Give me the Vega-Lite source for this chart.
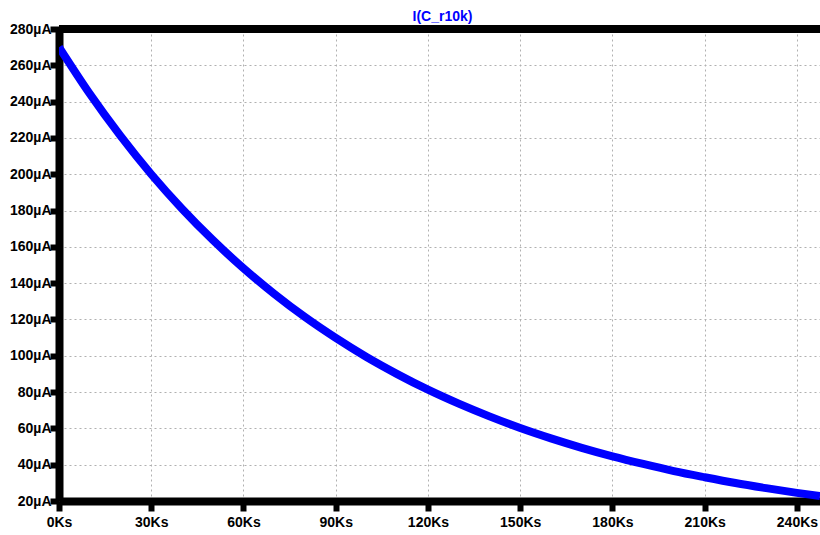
{
  "$schema": "https://vega.github.io/schema/vega-lite/v6.json",
  "width": 761,
  "height": 472,
  "autosize": {"type": "none"},
  "padding": {"left": 59, "top": 29, "right": 0, "bottom": 34},
  "background": "white",
  "title": {
    "text": "I(C_r10k)",
    "color": "#0000FF",
    "font": "Liberation Sans",
    "fontWeight": "bold",
    "fontSize": 14,
    "offset": -2,
    "dx": 3,
    "anchor": "middle"
  },
  "config": {
    "view": {"stroke": null},
    "axis": {
      "labelFont": "Liberation Sans",
      "labelFontWeight": "bold",
      "labelFontSize": 14,
      "labelColor": "black",
      "labelOverlap": false,
      "domainColor": "black",
      "domainWidth": 8,
      "tickColor": "black",
      "tickWidth": 6,
      "tickSize": 9,
      "gridColor": "#b0b0b0",
      "gridDash": [2, 3],
      "gridWidth": 1,
      "title": null
    }
  },
  "data": {
    "values": [
      {"t": 0, "i": 270},
      {"t": 10, "i": 244.3},
      {"t": 20, "i": 221.1},
      {"t": 30, "i": 200.0},
      {"t": 40, "i": 181.0},
      {"t": 50, "i": 163.8},
      {"t": 60, "i": 148.2},
      {"t": 70, "i": 134.1},
      {"t": 80, "i": 121.3},
      {"t": 90, "i": 109.8},
      {"t": 100, "i": 99.3},
      {"t": 110, "i": 89.9},
      {"t": 120, "i": 81.3},
      {"t": 130, "i": 73.6},
      {"t": 140, "i": 66.6},
      {"t": 150, "i": 60.2},
      {"t": 160, "i": 54.5},
      {"t": 170, "i": 49.3},
      {"t": 180, "i": 44.6},
      {"t": 190, "i": 40.4},
      {"t": 200, "i": 36.5},
      {"t": 210, "i": 33.1},
      {"t": 220, "i": 29.9},
      {"t": 230, "i": 27.1},
      {"t": 240, "i": 24.5},
      {"t": 247.5, "i": 22.7}
    ]
  },
  "layer": [
    {
      "mark": {"type": "line", "color": "#0000FF", "strokeWidth": 8, "clip": true, "interpolate": "monotone"},
      "encoding": {
        "x": {
          "field": "t",
          "type": "quantitative",
          "scale": {"domain": [0, 247.5], "nice": false, "zero": false},
          "axis": {
            "values": [0, 30, 60, 90, 120, 150, 180, 210, 240],
            "tickCount": 30,
            "tickSize": 10,
            "labelExpr": "datum.value + 'Ks'",
            "labelPadding": 4,
            "labelFlush": false,
            "labelOverlap": false
          }
        },
        "y": {
          "field": "i",
          "type": "quantitative",
          "scale": {"domain": [20, 280], "nice": false, "zero": false},
          "axis": {
            "values": [20, 40, 60, 80, 100, 120, 140, 160, 180, 200, 220, 240, 260, 280],
            "tickCount": 30,
            "labelExpr": "datum.value + 'µA'",
            "labelPadding": -1,
            "labelOverlap": false,
            "labelFlush": false
          }
        }
      }
    },
    {
      "mark": {"type": "rule", "color": "black", "strokeWidth": 8},
      "encoding": {"y": {"datum": 280}}
    }
  ]
}
